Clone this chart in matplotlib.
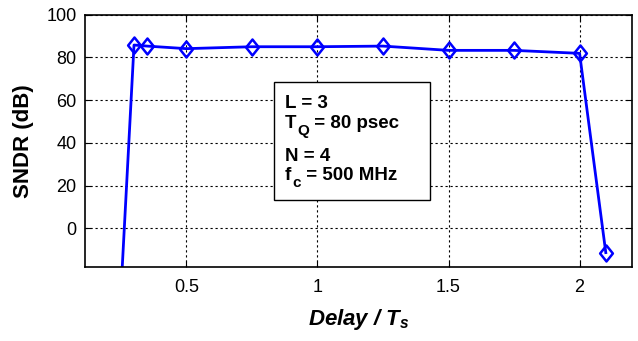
import matplotlib
matplotlib.use("Agg")
import matplotlib.pyplot as plt
from matplotlib.patches import Rectangle
from matplotlib.path import Path

# =========================
# DATA
# =========================
delay = [0.25, 0.30, 0.35, 0.50, 0.75, 1.00, 1.25, 1.50, 1.75, 2.00, 2.10]
sndr = [-30.0, 85.8, 85.3, 84.1, 85.0, 85.0, 85.3, 83.3, 83.3, 81.9, -11.4]
# box lines: (main, subscript, rest)
params = [("L = 3", "", ""), ("T", "Q", " = 80 psec"), ("N = 4", "", ""),
          ("f", "c", " = 500 MHz")]

plt.rcParams["font.family"] = ["Liberation Sans", "DejaVu Sans"]
plt.rcParams["mathtext.fontset"] = "custom"
plt.rcParams["mathtext.rm"] = "Liberation Sans:bold:italic"
plt.rcParams["mathtext.it"] = "Liberation Sans:bold:italic"

W, H = 638, 341
fig = plt.figure(figsize=(W / 100, H / 100), dpi=100)
ax = fig.add_axes([85 / W, 1 - 266.7 / H, (632 - 85) / W, (266.7 - 14.7) / H])

# matlab-like diamond, a bit taller than wide
diamond = Path([(0, 1), (0.8, 0), (0, -1), (-0.8, 0), (0, 1)],
               [Path.MOVETO, Path.LINETO, Path.LINETO, Path.LINETO, Path.CLOSEPOLY])

# =========================
# PLOT
# =========================
ax.plot(delay, sndr, color="#0000ff", linewidth=2, marker=diamond, markersize=11.5,
        markerfacecolor="none", markeredgewidth=1.8)

ax.set_xlim(0.113, 2.2)
ax.set_ylim(-18, 100)
ax.set_xticks([0.5, 1, 1.5, 2])
ax.set_xticklabels(["0.5", "1", "1.5", "2"])
ax.set_yticks([0, 20, 40, 60, 80, 100])
ax.tick_params(direction="in", labelsize=13, length=4, top=True, right=True)
ax.tick_params(axis="x", pad=9)
ax.tick_params(axis="y", pad=6)
ax.grid(True, color="black", linestyle=(0, (2, 2.5)), linewidth=0.8)
for s in ax.spines.values():
    s.set_linewidth(1.2)

ax.set_ylabel("SNDR (dB)", fontsize=16, fontweight="bold", labelpad=9)
ax.set_xlabel(r"Delay / T$_{s}$", fontsize=16, fontweight="bold",
              fontstyle="italic", labelpad=8)

# parameter box (figure pixel coords)
def fx(px):
    return px / W

def fy(py):
    return 1 - py / H

fig.patches.append(Rectangle((fx(274), fy(200)), fx(430) - fx(274), fy(82) - fy(200),
                             transform=fig.transFigure, facecolor="white",
                             edgecolor="black", linewidth=1.0, zorder=5))
fig.canvas.draw()
r = fig.canvas.get_renderer()
for (main, sub, rest), base in zip(params, [108, 128, 161, 180]):
    t = fig.text(fx(285), fy(base), main, fontsize=13.5, fontweight="bold",
                 va="baseline", ha="left", zorder=6)
    if sub:
        x = t.get_window_extent(r).x1 + 1
        s = fig.text(fx(x), fy(base + 7), sub, fontsize=11, fontweight="bold",
                     va="baseline", ha="left", zorder=6)
        x = s.get_window_extent(r).x1
        fig.text(fx(x), fy(base), rest, fontsize=13.5, fontweight="bold",
                 va="baseline", ha="left", zorder=6)

fig.savefig("out.png", dpi=100)
